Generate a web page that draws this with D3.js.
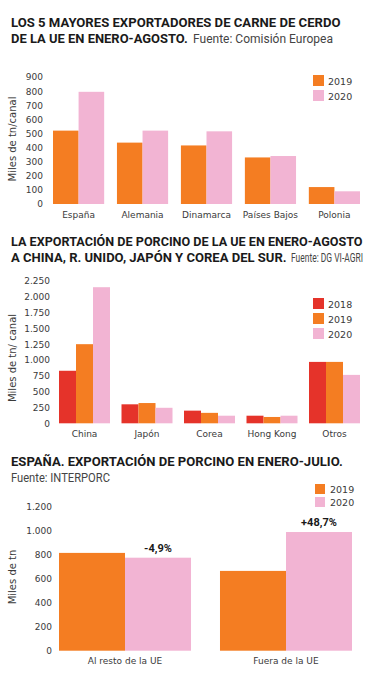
<!DOCTYPE html>
<html><head><meta charset="utf-8">
<script src="https://cdn.jsdelivr.net/npm/d3@7"></script>
<style>
html,body{margin:0;padding:0;background:#fff;overflow:hidden;}
svg{display:block;}
</style></head>
<body>
<script>
// ---- Chart 1 data
const cats1 = ["España", "Alemania", "Dinamarca", "Países Bajos", "Polonia"];
const v1_2019 = [520, 435, 415, 330, 120];
const v1_2020 = [795, 520, 515, 340, 90];
const ticks1 = [0, 100, 200, 300, 400, 500, 600, 700, 800, 900];

// ---- Chart 2 data
const cats2 = ["China", "Japón", "Corea", "Hong Kong", "Otros"];
const v2_2018 = [830, 300, 200, 120, 970];
const v2_2019 = [1250, 320, 165, 100, 970];
const v2_2020 = [2150, 245, 120, 120, 765];
const ticks2 = [0, 250, 500, 750, 1000, 1250, 1500, 1750, 2000, 2250];

// ---- Chart 3 data
const cats3 = ["Al resto de la UE", "Fuera de la UE"];
const v3_2019 = [815, 665];
const v3_2020 = [775, 989];
const labels3 = ["-4,9%", "+48,7%"];
const ticks3 = [0, 200, 400, 600, 800, 1000, 1200];

const colors = {"2018": "#e5332a", "2019": "#f47d22", "2020": "#f2b4d3"};
const textCol = "#3a3a3a";
const fmt = d => d3.format(",")(d).replace(/,/g, ".");

const W = 369, H = 687;
const svg = d3.select("body").append("svg").attr("width", W).attr("height", H);

const tFont = "Roboto, 'Open Sans', sans-serif";
const aFont = "'DejaVu Sans', sans-serif";

// title text squeezed horizontally to a target width (condensed look)
function title(x, y, txt, bold, len, size) {
  const t = svg.append("text").attr("x", 0).attr("y", 0).text(txt)
    .attr("font-family", tFont).attr("font-size", size || 13)
    .attr("font-weight", bold ? 700 : 400)
    .attr("fill", bold ? "#1a1a1a" : "#444");
  const nat = t.node().getComputedTextLength();
  const s = len && nat > 0 ? len / nat : 1;
  t.attr("transform", `translate(${x},${y}) scale(${s},1)`);
}

// Titles
title(11, 27, "LOS 5 MAYORES EXPORTADORES DE CARNE DE CERDO", true, 330);
title(11, 43, "DE LA UE EN ENERO-AGOSTO.", true, 177);
title(193, 43, "Fuente: Comisión Europea", false, 140);

title(11, 246, "LA EXPORTACIÓN DE PORCINO DE LA UE EN ENERO-AGOSTO", true, 352);
title(11, 262, "A CHINA, R. UNIDO, JAPÓN Y COREA DEL SUR.", true, 276);
title(291, 262, "Fuente: DG VI-AGRI", false, 72, 12);

title(11, 466, "ESPAÑA. EXPORTACIÓN DE PORCINO EN ENERO-JULIO.", true, 332);
title(11, 482, "Fuente: INTERPORC", false, 99);

function barChart(opt) {
  const {cats, series, keys, yDomain, yRange, xRange, padInner, ticks, tickX, yTitle, yTitleX, yTitleY, catY, legX, legY, legStep, legSize} = opt;
  const x0 = d3.scaleBand().domain(cats).range(xRange).paddingInner(padInner).paddingOuter(0);
  const x1 = d3.scaleBand().domain(keys).range([0, x0.bandwidth()]).padding(0);
  const y = d3.scaleLinear().domain(yDomain).range(yRange);
  const g = svg.append("g");

  // y axis (labels only)
  const ya = g.append("g").attr("transform", `translate(${tickX},0)`)
    .call(d3.axisLeft(y).tickValues(ticks).tickFormat(fmt).tickSize(0).tickPadding(0));
  ya.select(".domain").remove();
  ya.selectAll("text").attr("font-family", aFont).attr("font-size", 9).attr("fill", textCol);

  // bars
  keys.forEach((k, ki) => {
    g.append("g").selectAll("rect").data(cats).join("rect")
      .attr("x", (c) => x0(c) + x1(k))
      .attr("width", x1.bandwidth())
      .attr("y", (c, i) => y(series[ki][i]))
      .attr("height", (c, i) => y(0) - y(series[ki][i]))
      .attr("fill", colors[k]);
  });

  // category labels
  g.append("g").selectAll("text").data(cats).join("text")
    .attr("x", c => x0(c) + x0.bandwidth() / 2)
    .attr("y", catY)
    .attr("text-anchor", "middle")
    .attr("font-family", aFont).attr("font-size", 9).attr("fill", textCol)
    .text(c => c);

  // y title
  g.append("text")
    .attr("transform", `translate(${yTitleX},${yTitleY}) rotate(-90)`)
    .attr("text-anchor", "middle")
    .attr("font-family", aFont).attr("font-size", 10).attr("fill", textCol)
    .text(yTitle);

  // legend
  const lg = g.append("g");
  keys.forEach((k, i) => {
    lg.append("rect").attr("x", legX).attr("y", legY + i * legStep)
      .attr("width", legSize).attr("height", legSize).attr("fill", colors[k]);
    lg.append("text").attr("x", legX + 15).attr("y", legY + i * legStep + legSize - 1.5)
      .attr("font-family", aFont).attr("font-size", 9.5).attr("fill", textCol).text(k);
  });
  return {x0, x1, y, g};
}

barChart({
  cats: cats1, series: [v1_2019, v1_2020], keys: ["2019", "2020"],
  yDomain: [0, 900], yRange: [204, 77], xRange: [53, 360], padInner: 0.2,
  ticks: ticks1, tickX: 43, yTitle: "Miles de tn/canal", yTitleX: 16, yTitleY: 139,
  catY: 218, legX: 313, legY: 75, legStep: 15, legSize: 11
});

barChart({
  cats: cats2, series: [v2_2018, v2_2019, v2_2020], keys: ["2018", "2019", "2020"],
  yDomain: [0, 2000], yRange: [423.3, 296.7], xRange: [59, 360], padInner: 0.184,
  ticks: ticks2, tickX: 50, yTitle: "Miles de tn/ canal", yTitleX: 16, yTitleY: 358,
  catY: 437, legX: 313, legY: 298, legStep: 15, legSize: 11
});

const c3 = barChart({
  cats: cats3, series: [v3_2019, v3_2020], keys: ["2019", "2020"],
  yDomain: [0, 1200], yRange: [650.7, 506.7], xRange: [59, 352], padInner: 0.18,
  ticks: ticks3, tickX: 52, yTitle: "Miles de tn", yTitleX: 16, yTitleY: 577,
  catY: 664, legX: 315, legY: 484, legStep: 13, legSize: 10
});

// percentage labels above 2020 bars
c3.g.append("g").selectAll("text").data(cats3).join("text")
  .attr("x", c => c3.x0(c) + c3.x1("2020") + c3.x1.bandwidth() / 2)
  .attr("y", (c, i) => c3.y(v3_2020[i]) - 6)
  .attr("text-anchor", "middle")
  .attr("font-family", tFont).attr("font-weight", 700).attr("font-size", 11).attr("fill", "#1a1a1a")
  .text((c, i) => labels3[i]);
</script>
</body></html>
